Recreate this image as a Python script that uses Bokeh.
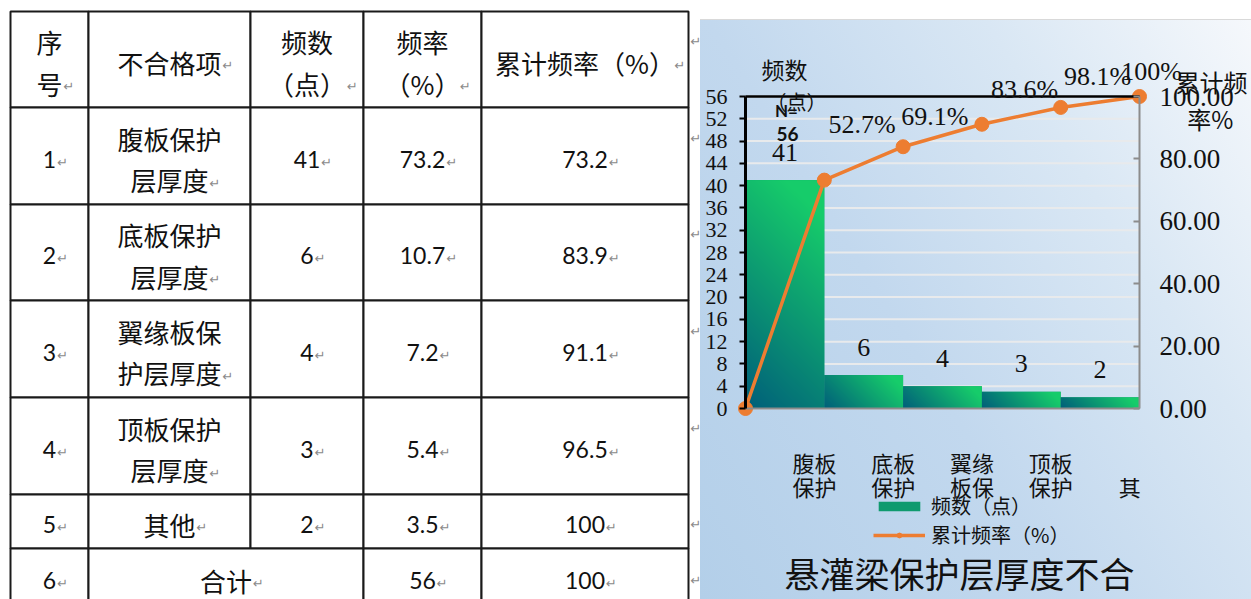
import numpy as np
from bokeh.plotting import figure
from bokeh.layouts import row
from bokeh.models import (Range1d, LinearAxis, FixedTicker, PrintfTickFormatter,
                          ColumnDataSource, LabelSet, Label, Legend, LegendItem)
from bokeh.core.properties import value
from bokeh.embed import file_html
from bokeh.resources import INLINE

# ---------------- data ----------------
table_header = ["序\n号", "不合格项", "频数\n（点）", "频率\n（%）", "累计频率（%）"]
row_no = ["1", "2", "3", "4", "5", "6"]
defect_items = ["腹板保护\n层厚度", "底板保护\n层厚度", "翼缘板保\n护层厚度", "顶板保护\n层厚度", "其他"]
defect_counts = [41, 6, 4, 3, 2]
defect_freq = [73.2, 10.7, 7.2, 5.4, 3.5]
cumulative_freq = [73.2, 83.9, 91.1, 96.5, 100]
total_label = "合计"
total_count = 56
total_freq = 100

chart_categories = ["腹板\n保护", "底板\n保护", "翼缘\n板保", "顶板\n保护", "\n其"]
chart_cumulative = [0, 73.2, 83.9, 91.1, 96.5, 100]
point_labels = ["52.7%", "69.1%", "83.6%", "98.1%", "100%"]
point_label_anchor = [2, 3, 4, 5, 5]
left_ticks = list(range(0, 57, 4))
right_ticks = [0, 20, 40, 60, 80, 100]
chart_title = "悬灌梁保护层厚度不合"

# ---------------- fonts / colours ----------------
CJK = "Noto Sans CJK SC"
NUM = "Lato"
SERIF = "Liberation Serif"
INK = "#111111"
ORANGE = "#ed7d31"
CJK_METRIC = 1.448  # (ascent + descent) / em of the CJK face


def fmt(v):
    return f"{v:g}"


# ================= table (left) =================
col_edges = [10, 88, 250, 363, 481, 688]
row_edges = [11, 107, 204, 300, 397, 494, 548, 606]
CJK_SIZE = 26
NUM_SIZE = 23
LINE_PX = 42
LINE_H = LINE_PX / (CJK_METRIC * CJK_SIZE)

t = figure(width=700, height=599, x_range=Range1d(0, 700), y_range=Range1d(599, 0),
           x_axis_location=None, y_axis_location=None, toolbar_location=None,
           output_backend="svg", min_border=0, outline_line_color=None, title=None,
           background_fill_color="white", border_fill_color="white")
t.grid.visible = False

cells = dict(left=[], right=[], top=[], bottom=[])
n_rows = len(row_edges) - 1
for r in range(n_rows):
    spans = [(0, 1), (1, 2), (2, 3), (3, 4), (4, 5)]
    if r == n_rows - 1:
        spans = [(0, 1), (1, 3), (3, 4), (4, 5)]
    for a, b in spans:
        cells["left"].append(col_edges[a])
        cells["right"].append(col_edges[b])
        cells["top"].append(row_edges[r])
        cells["bottom"].append(row_edges[r + 1])
t.quad(source=ColumnDataSource(cells), left="left", right="right", top="top", bottom="bottom",
       fill_color="white", line_color="#1a1a1a", line_width=2)


def text_width(s, kind):
    w = 0.0
    for ch in s:
        if ord(ch) > 0x2E80:
            w += CJK_SIZE
        elif kind == "num":
            w += (0.26 if ch == "." else 0.58) * NUM_SIZE
        else:
            w += 0.8 * CJK_SIZE
    return w


texts = {"cjk": dict(x=[], y=[], t=[]), "num": dict(x=[], y=[], t=[])}
marks = dict(x=[], y=[], t=[])
row_first_line = {}


def put(text, c0, c1, r, kind):
    x = (col_edges[c0] + col_edges[c1]) / 2
    y = (row_edges[r] + row_edges[r + 1]) / 2 + 3
    texts[kind]["x"].append(x)
    texts[kind]["y"].append(y)
    texts[kind]["t"].append(text)
    lines = text.split("\n")
    step = LINE_PX if kind == "cjk" else 0
    last_y = y + (len(lines) - 1) * step / 2
    first_y = y - (len(lines) - 1) * step / 2
    row_first_line[r] = min(row_first_line.get(r, 1e9), first_y)
    marks["x"].append(x + text_width(lines[-1], kind) / 2 + 1)
    marks["y"].append(last_y + 3)
    marks["t"].append("↵")


for c, h in enumerate(table_header):
    put(h, c, c + 1, 0, "cjk")
for i in range(len(defect_items)):
    r = i + 1
    put(row_no[i], 0, 1, r, "num")
    put(defect_items[i], 1, 2, r, "cjk")
    put(str(defect_counts[i]), 2, 3, r, "num")
    put(fmt(defect_freq[i]), 3, 4, r, "num")
    put(fmt(cumulative_freq[i]), 4, 5, r, "num")
put(row_no[5], 0, 1, n_rows - 1, "num")
put(total_label, 1, 3, n_rows - 1, "cjk")
put(str(total_count), 3, 4, n_rows - 1, "num")
put(fmt(total_freq), 4, 5, n_rows - 1, "num")

t.text(x=texts["cjk"]["x"], y=texts["cjk"]["y"], text=texts["cjk"]["t"],
       text_font=value(CJK), text_font_size=f"{CJK_SIZE}px", text_color=INK,
       text_align="center", text_baseline="middle", text_line_height=LINE_H)
t.text(x=texts["num"]["x"], y=texts["num"]["y"], text=texts["num"]["t"],
       text_font=value(NUM), text_font_size=f"{NUM_SIZE}px", text_color=INK,
       text_align="center", text_baseline="middle")

# paragraph marks after each cell and at each row end
for r in range(n_rows):
    marks["x"].append(690)
    marks["y"].append(row_first_line[r])
    marks["t"].append("↵")
t.text(x=marks["x"], y=marks["y"], text=marks["t"], text_font=value("DejaVu Sans"),
       text_font_size="13px", text_color="#8a8a8a", text_align="left", text_baseline="middle")

# ================= Pareto chart (right) =================
n_cat = len(defect_counts)
y_max = left_ticks[-1]
PANEL_W, PANEL_H = 551, 599
AREA_L, AREA_R, AREA_T, AREA_B = 45, 439, 96, 408   # plot area inside the panel (px)
unit_x = (AREA_R - AREA_L) / n_cat
ppu = (AREA_B - AREA_T) / y_max
pct_scale = 100 / y_max

x_lo, x_hi = -AREA_L / unit_x, n_cat + (PANEL_W - AREA_R) / unit_x
y_lo, y_hi = -(PANEL_H - AREA_B) / ppu, y_max + AREA_T / ppu

c = figure(width=PANEL_W, height=PANEL_H, x_range=Range1d(x_lo, x_hi), y_range=Range1d(y_lo, y_hi),
           toolbar_location=None, output_backend="svg", title=None,
           x_axis_location=None, y_axis_location=None, min_border=0,
           background_fill_color=None, border_fill_color=None, outline_line_color=None)
c.styles = {
    "background": ("linear-gradient(180deg, #ffffff 0px, #ffffff 19px, #d9d9d9 19px, #d9d9d9 20px, "
                   "rgba(255,255,255,0) 20px), "
                   "linear-gradient(58deg, #b3cfe9 0%, #c2d8ee 40%, #d9e7f4 70%, #f7f9fc 100%)")
}
c.extra_y_ranges = {"pct": Range1d(y_lo * pct_scale, y_hi * pct_scale)}
c.grid.visible = False

# horizontal gridlines behind the bars
c.segment(x0=[0] * len(left_ticks), x1=[n_cat] * len(left_ticks), y0=left_ticks, y1=left_ticks,
          line_color="#e8eaec", line_width=2, level="underlay")

# left axis (count)
ya = LinearAxis(fixed_location=0, bounds=(0, y_max), ticker=FixedTicker(ticks=left_ticks))
ya.axis_line_color = "black"
ya.axis_line_width = 3
ya.major_tick_out = 6
ya.major_tick_in = 0
ya.major_tick_line_color = "black"
ya.major_tick_line_width = 2
ya.minor_tick_line_color = None
ya.major_label_text_font = SERIF
ya.major_label_text_font_size = "22px"
ya.major_label_text_color = INK
ya.major_label_standoff = 12
c.add_layout(ya, "left")

# bottom axis (categories)
label_pos = [i + 0.875 for i in range(n_cat)]
xa = LinearAxis(fixed_location=0, bounds=(0, n_cat), ticker=FixedTicker(ticks=label_pos))
xa.major_label_overrides = {p: s for p, s in zip(label_pos, chart_categories)}
xa.axis_line_color = "#8c8c8c"
xa.axis_line_width = 2
xa.major_tick_line_color = None
xa.minor_tick_line_color = None
xa.major_label_text_font = CJK
xa.major_label_text_font_size = "22px"
xa.major_label_text_color = INK
xa.major_label_text_line_height = 24 / (CJK_METRIC * 22)
xa.major_label_standoff = 31
c.add_layout(xa, "below")

# right axis (cumulative %)
ra = LinearAxis(y_range_name="pct", fixed_location=n_cat, bounds=(0, 100),
                ticker=FixedTicker(ticks=right_ticks), formatter=PrintfTickFormatter(format="%.2f"))
ra.axis_line_color = "#8c8c8c"
ra.axis_line_width = 2
ra.major_tick_in = 6
ra.major_tick_out = 0
ra.major_tick_line_color = "#8c8c8c"
ra.major_tick_line_width = 2
ra.minor_tick_line_color = None
ra.major_label_text_font = SERIF
ra.major_label_text_font_size = "27px"
ra.major_label_text_color = INK
ra.major_label_standoff = 20
c.add_layout(ra, "right")

# top edge of the plot area
ta = LinearAxis(fixed_location=y_max, bounds=(0, n_cat), ticker=FixedTicker(ticks=[]))
ta.axis_line_color = "black"
ta.axis_line_width = 2.5
ta.major_tick_line_color = None
ta.minor_tick_line_color = None
ta.major_label_text_font_size = "0px"
c.add_layout(ta, "above")

# bars
bar_src = ColumnDataSource(dict(x=[i + 0.5 for i in range(n_cat)], top=defect_counts,
                                label=[str(v) for v in defect_counts]))
bars = c.vbar(x="x", top="top", width=1, source=bar_src, fill_color="#0f9a6e", line_color=None)

DARK = np.array([0, 94, 122], dtype=float)
GREEN = np.array([22, 204, 106], dtype=float)


def bar_gradient(count):
    w_px = int(round(unit_x))
    h_px = max(2, int(round(count * ppu)))
    u = (np.arange(w_px) + 0.5)[None, :]
    v = (np.arange(h_px) + 0.5)[:, None]
    k = np.clip((u + v) / (w_px + h_px) * 1.15, 0, 1)[..., None]
    rgb = DARK * (1 - k) + GREEN * k
    img = np.empty((h_px, w_px), dtype=np.uint32)
    view = img.view(dtype=np.uint8).reshape((h_px, w_px, 4))
    view[..., :3] = rgb.round().astype(np.uint8)
    view[..., 3] = 255
    return img


for i, v in enumerate(defect_counts):
    c.image_rgba(image=[bar_gradient(v)], x=i, y=0, dw=1, dh=v)

c.add_layout(LabelSet(x="x", y="top", text="label", source=bar_src, y_offset=28,
                      text_align="center", text_baseline="middle", text_font=value(SERIF),
                      text_font_size="26px", text_color=INK))

# cumulative line
line_src = ColumnDataSource(dict(x=list(range(n_cat + 1)), y=chart_cumulative))
ln = c.line("x", "y", source=line_src, y_range_name="pct", line_color=ORANGE, line_width=3.5)
pts = c.scatter("x", "y", source=line_src, y_range_name="pct", size=14,
                fill_color=ORANGE, line_color=ORANGE)

pl_src = ColumnDataSource(dict(
    x=point_label_anchor,
    y=[chart_cumulative[a] for a in point_label_anchor],
    text=point_labels,
    xo=[-41, -47, -36, -42, 12],
    yo=[22, 8, 18, 20, 25],
))
c.add_layout(LabelSet(x="x", y="y", text="text", source=pl_src, y_range_name="pct",
                      x_offset="xo", y_offset="yo", text_align="center", text_baseline="middle",
                      text_font=value(SERIF), text_font_size="26px", text_color=INK))

# axis captions and sample-size note
notes = [
    ("频数", 0.495, 60.9, CJK, "23px", "normal"),
    ("（点）", 0.647, 55.1, CJK, "20px", "normal"),
    ("N=", 0.52, 53.45, NUM, "17px", "bold"),
    (str(total_count), 0.533, 49.33, NUM, "19px", "bold"),
    ("累计频", 5.914, 58.7, CJK, "24px", "normal"),
    ("率%", 5.90, 52.0, CJK, "24px", "normal"),
]
for txt, nx, ny, font, size, style in notes:
    c.add_layout(Label(x=nx, y=ny, text=txt, text_font=font, text_font_size=size,
                       text_font_style=style, text_color=INK,
                       text_align="center", text_baseline="middle"))

legend = Legend(items=[LegendItem(label="频数（点）", renderers=[bars]),
                       LegendItem(label="累计频率（%）", renderers=[ln, pts])],
                location=(173, 50), orientation="vertical",
                background_fill_alpha=0, border_line_color=None,
                padding=0, margin=0, spacing=0, glyph_width=52, glyph_height=12,
                label_height=20, label_standoff=6, label_text_font=CJK,
                label_text_font_size="20px", label_text_color=INK,
                label_text_line_height=20 / (CJK_METRIC * 20))
c.add_layout(legend)

c.add_layout(Label(x=0.495, y=-29.44, text=chart_title, text_font=CJK, text_font_size="35px",
                   text_color=INK, text_align="left", text_baseline="middle"))

layout = row(t, c)
open("out.html", "w").write(file_html(layout, INLINE))
